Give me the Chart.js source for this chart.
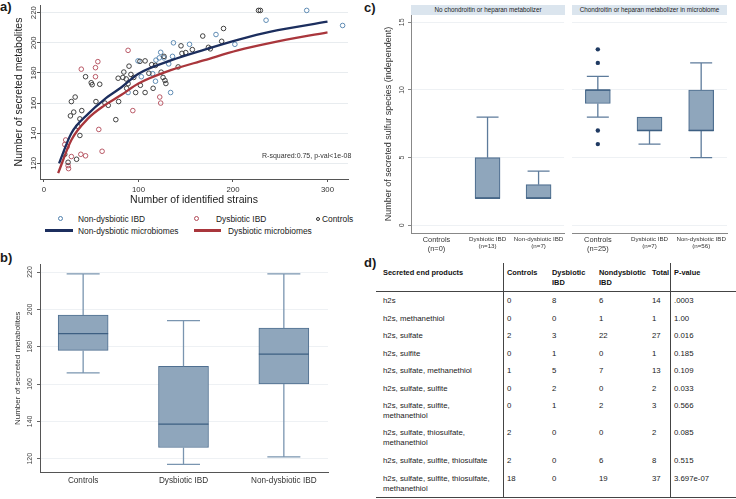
<!DOCTYPE html>
<html>
<head>
<meta charset="utf-8">
<script src="https://cdn.jsdelivr.net/npm/chart.js@4.4.1/dist/chart.umd.min.js"></script>
<style>
  html, body { margin:0; padding:0; background:#fff; }
  body { width:736px; height:499px; position:relative; overflow:hidden; font-family:"Liberation Sans", Arial, sans-serif; color:#1a1a1a; }
  canvas { position:absolute; }
  .t { position:absolute; white-space:pre; }
  .plab { position:absolute; font-weight:bold; font-size:13px; line-height:13px; }
  .dot { position:absolute; border-radius:50%; box-sizing:border-box; }
  .ln { position:absolute; }
</style>
</head>
<body>
<div class="plab" style="left:0;top:0">a)</div>
<div class="plab" style="left:0;top:251px">b)</div>
<div class="plab" style="left:364px;top:1px">c)</div>
<div class="plab" style="left:364px;top:256px">d)</div>
<canvas id="ca" width="360" height="212" style="left:0;top:0"></canvas>
<canvas id="cb" width="360" height="241" style="left:0;top:258px"></canvas>
<canvas id="ccl" width="196" height="258" style="left:370px;top:0"></canvas>
<canvas id="ccr" width="170" height="258" style="left:566px;top:0"></canvas>
<div id="extra"></div>
<script>
// ================= DATA =================
// Panel a: scatter of strains vs secreted metabolites
const aNonDysX = [99.5,103,89,123.5,137,154,182,202,118.5,115,118,134,136,127,132,235,278,316,122];
const aNonDysY = [188,177.5,167,193.7,200,199,205.5,199,188.5,179.5,174.5,167,191,190,186,215,221.5,211.5,190];
const aDysX = [89,57,39.5,54.5,54.5,94,58,61.5,23,24.5,29,39,44,25.5,26,122.5,123.5,22];
const aDysY = [195,187.5,182.5,183.5,177.5,155,142.5,128,135.5,131,124.5,126,125,118.5,116.5,164,160,132.5];
const aCtrlX = [44,50,51,59,29,33,28,31.5,40,38,36,38,22,34.5,25.5,64.5,68,55,76,79,78.5,83.5,87,90,92,95,89,87.5,97,101.5,107,114,111,102,107,115.5,124,126,128,129,127,145,146,150,157,168,174,176,188,190,227,229,142,118,84.5];
const aCtrlY = [177.5,173.5,172.2,172.5,161,164,151.5,154,155,149.5,144.5,138.5,126,122.7,120.7,160,158.5,161,149,161,176.5,177,176,184.5,179,177,172.9,169.8,167,187.7,188,185.5,179.8,171.8,167,169.8,180.5,177,175,173,191,198,193,193.5,195.5,204.5,197,196,201,209.5,221.5,221.5,184,185,180.6];
const aFitNonDysX = [16,29,47,64,82,100,135,170,205,240,300];
const aFitNonDysY = [120,140,153,162.5,170.5,179.5,188.5,195.5,202,207.5,214];
const aFitDysX = [15,29,47,64,82,100,135,170,205,240,300];
const aFitDysY = [113.5,135.5,150,158.5,165.5,173,182,188.5,195,200,207];
const aXTicks = [0,100,200,300];
const aYTicks = [120,140,160,180,200,220];

// Panel b: box plot of secreted metabolites
const bCats = ['Controls','Dysbiotic IBD','Non-dysbiotic IBD'];
const bLow  = [166, 117, 121];
const bQ1   = [178, 126, 160];
const bMed  = [187, 138.5, 176];
const bQ3   = [197, 169.5, 190];
const bHigh = [219, 194, 219];
const bYTicks = [120,140,160,180,200,220];

// Panel c: sulfur species by chondroitin/heparan metabolizer
const cLeftTitle = 'No chondroitin or heparan metabolizer';
const cRightTitle = 'Chondroitin or heparan metabolizer in microbiome';
const cLeftCats  = [['Controls','(n=0)'],['Dysbiotic IBD','(n=13)'],['Non-dysbiotic IBD','(n=7)']];
const cLeftLow   = [null, 2, 2];
const cLeftQ1    = [null, 2, 2];
const cLeftMed   = [null, 2, 2];
const cLeftQ3    = [null, 5, 3];
const cLeftHigh  = [null, 8, 4];
const cRightCats = [['Controls','(n=25)'],['Dysbiotic IBD','(n=7)'],['Non-dysbiotic IBD','(n=56)']];
const cRightLow  = [8, 6, 5];
const cRightQ1   = [9, 7, 7];
const cRightMed  = [10, 7, 7];
const cRightQ3   = [10, 8, 10];
const cRightHigh = [11, 8, 12];
const cRightOutCat = [0, 0, 0, 0];
const cRightOutVal = [13, 12, 7, 6];
const cYTicks = [0,5,10,15];

// Panel d: table
const dHeaders  = ['Secreted end products','Controls','Dysbiotic\nIBD','Nondysbiotic\nIBD','Total','P-value'];
const dProducts = ['h2s','h2s, methanethiol','h2s, sulfate','h2s, sulfite','h2s, sulfate, methanethiol','h2s, sulfate, sulfite','h2s, sulfate, sulfite,\nmethanethiol','h2s, sulfate, thiosulfate,\nmethanethiol','h2s, sulfate, sulfite, thiosulfate','h2s, sulfate, sulfite, thiosulfate,\nmethanethiol'];
const dControls = [0,0,2,0,1,0,0,2,2,18];
const dDys      = [8,0,3,1,5,2,1,0,0,0];
const dNonDys   = [6,1,22,0,7,0,2,0,6,19];
const dTotal    = [14,1,27,1,13,2,3,2,8,37];
const dPval     = ['.0003','1.00','0.016','0.185','0.109','0.033','0.566','0.085','0.515','3.697e-07'];

// ================= HELPERS =================
const FONT = '"Liberation Sans", Arial, sans-serif';
Chart.defaults.font.family = FONT;
Chart.defaults.color = '#333';
const zip = (xs, ys) => xs.map((x, i) => ({x: x, y: ys[i]}));
const fixTicks = arr => (s => { s.ticks = arr.map(v => ({value: v})); });
const base = () => ({responsive:false, maintainAspectRatio:false, animation:false, devicePixelRatio:1, events:[],
  plugins:{legend:{display:false}, tooltip:{enabled:false}}});

function boxPlugin(name, d) {
  return { id: 'box_' + name, afterDatasetsDraw(chart) {
    const ctx = chart.ctx, xs = chart.scales.x, ys = chart.scales.y;
    ctx.save();
    d.low.forEach((lo, i) => {
      if (d.q1[i] == null) return;
      const cx = xs.getPixelForValue(i);
      const yq1 = ys.getPixelForValue(d.q1[i]), yq3 = ys.getPixelForValue(d.q3[i]);
      const ylo = ys.getPixelForValue(lo), yhi = ys.getPixelForValue(d.high[i]), ymed = ys.getPixelForValue(d.med[i]);
      ctx.strokeStyle = d.whisker; ctx.lineWidth = d.ww;
      ctx.beginPath();
      if (d.high[i] > d.q3[i]) { ctx.moveTo(cx, yq3); ctx.lineTo(cx, yhi); ctx.moveTo(cx - d.cap/2, yhi); ctx.lineTo(cx + d.cap/2, yhi); }
      if (lo < d.q1[i]) { ctx.moveTo(cx, yq1); ctx.lineTo(cx, ylo); ctx.moveTo(cx - d.cap/2, ylo); ctx.lineTo(cx + d.cap/2, ylo); }
      ctx.stroke();
      ctx.strokeStyle = d.median; ctx.lineWidth = d.mw;
      ctx.beginPath(); ctx.moveTo(cx - d.bw/2, ymed); ctx.lineTo(cx + d.bw/2, ymed); ctx.stroke();
    });
    ctx.restore();
  }};
}
const boxBars = (q1, q3) => q1.map((v, i) => v == null ? null : {x: i, y: [v, q3[i]]}).filter(Boolean);

const BOX_FILL = '#8fa6bc', BOX_EDGE = '#4f6f90', WHISK = '#7a95b0', MED = '#3d5f82';

// ================= PANEL A =================
new Chart(document.getElementById('ca'), {
  type: 'scatter',
  data: { datasets: [
    {type:'line', data: zip(aFitNonDysX, aFitNonDysY), borderColor:'#1c2e5e', borderWidth:2.3, pointRadius:0, cubicInterpolationMode:'monotone', fill:false, order:0},
    {type:'line', data: zip(aFitDysX, aFitDysY), borderColor:'#a9363c', borderWidth:2.3, pointRadius:0, cubicInterpolationMode:'monotone', fill:false, order:0},
    {data: zip(aCtrlX, aCtrlY), pointRadius:2.3, pointBorderWidth:0.9, pointBorderColor:'#2f2f2f', pointBackgroundColor:'rgba(0,0,0,0)', order:1},
    {data: zip(aDysX, aDysY), pointRadius:2.3, pointBorderWidth:0.9, pointBorderColor:'#b24a58', pointBackgroundColor:'rgba(0,0,0,0)', order:2},
    {data: zip(aNonDysX, aNonDysY), pointRadius:2.3, pointBorderWidth:0.9, pointBorderColor:'#4f80ad', pointBackgroundColor:'rgba(0,0,0,0)', order:3}
  ]},
  options: Object.assign(base(), {
    layout: {padding: {left:12.7, right:12, top:5, bottom:0}},
    scales: {
      x: {type:'linear', min:-4.2, max:321.7, offset:false, afterBuildTicks: fixTicks(aXTicks),
          ticks:{font:{size:7.8}, color:'#333', padding:3, maxRotation:0},
          grid:{display:true, drawOnChartArea:false, tickLength:3, tickColor:'#555'},
          border:{color:'#555', width:1},
          title:{display:true, text:'Number of identified strains', font:{size:10.5}, color:'#222', padding:{top:0, bottom:6}},
          afterFit: s => { s.height = 33; }},
      y: {type:'linear', min:109.6, max:225.1, afterBuildTicks: fixTicks(aYTicks),
          ticks:{font:{size:7.8}, color:'#333', minRotation:90, maxRotation:90, crossAlign:'center', padding:-3},
          grid:{color:'#e8ecef', tickLength:3, tickColor:'#555'},
          border:{color:'#555', width:1},
          title:{display:true, text:'Number of secreted metabolites', font:{size:10.5}, color:'#222', padding:{top:0, bottom:0}},
          afterFit: s => { s.width = 27.3; }}
    }
  })
});

// ================= PANEL B =================
new Chart(document.getElementById('cb'), {
  type: 'bar',
  data: { datasets: [{ data: boxBars(bQ1, bQ3), backgroundColor: BOX_FILL, borderColor: BOX_EDGE, borderWidth: 1, borderSkipped: false, barThickness: 50 }]},
  options: Object.assign(base(), {
    layout: {padding: {left:13.2, right:32, top:6, bottom:0}},
    scales: {
      x: {type:'linear', min:-0.43, max:2.44, offset:false, afterBuildTicks: fixTicks([0,1,2]),
          ticks:{font:{size:8.2}, color:'#333', padding:3.4, maxRotation:0, callback: v => bCats[v]},
          grid:{display:false, drawTicks:false},
          border:{color:'#555', width:1},
          afterFit: s => { s.height = 26.3; }},
      y: {type:'linear', min:112.5, max:224.3, beginAtZero:false, afterBuildTicks: fixTicks(bYTicks),
          ticks:{font:{size:7}, color:'#444', minRotation:90, maxRotation:90, crossAlign:'center', padding:0.9},
          grid:{color:'#eef1f4', tickLength:3, tickColor:'#666'},
          border:{color:'#555', width:1},
          title:{display:true, text:'Number of secreted metabolites', font:{size:8}, color:'#333', padding:{top:0, bottom:0}},
          afterFit: s => { s.width = 26.8; }}
    }
  }),
  plugins: [boxPlugin('b', {low:bLow, q1:bQ1, med:bMed, q3:bQ3, high:bHigh, whisker:WHISK, ww:1.3, median:MED, mw:1.3, cap:33, bw:50})]
});

// ================= PANEL C =================
function cChart(id, cats, low, q1, med, q3, high, outCat, outVal, left) {
  const ds = [{ type:'bar', data: boxBars(q1, q3), backgroundColor: BOX_FILL, borderColor: BOX_EDGE, borderWidth: 1.2, borderSkipped:false, barThickness: 25, order: 2 }];
  if (outCat) ds.push({ type:'scatter', data: zip(outCat, outVal), pointRadius:2.2, pointBackgroundColor:'#1f3a62', pointBorderColor:'#1f3a62', pointBorderWidth:0, order: 0 });
  new Chart(document.getElementById(id), {
    type: 'bar',
    data: { datasets: ds },
    options: Object.assign(base(), {
      layout: {padding: left ? {left:12.9, right:1, top:15, bottom:0} : {left:6, right:9, top:15, bottom:0}},
      scales: {
        x: {type:'linear', min:-0.5, max:2.5, offset:false, afterBuildTicks: fixTicks([0,1,2]),
            ticks:{font: c => ({size: c.index === 0 ? 7.4 : 6.2}), color:'#333', padding:2.5, maxRotation:0, callback: v => cats[v]},
            grid:{display:false, drawTicks:false},
            border:{color:'#888', width:1},
            afterFit: s => { s.height = 25; }},
        y: left ? {type:'linear', min:-0.57, max:15.54, beginAtZero:false, afterBuildTicks: fixTicks(cYTicks),
            ticks:{font:{size:7}, color:'#444', minRotation:90, maxRotation:90, crossAlign:'center', padding:1.6},
            grid:{color:'#eef1f4', tickLength:3, tickColor:'#888'},
            border:{color:'#888', width:1},
            title:{display:true, text:'Number of secreted sulfur species (independent)', font:{size:9}, color:'#333', padding:{top:0,bottom:0}},
            afterFit: s => { s.width = 28.1; }}
          : {type:'linear', min:-0.57, max:15.54, beginAtZero:false, afterBuildTicks: fixTicks(cYTicks),
            ticks:{display:false}, grid:{color:'#eef1f4', drawTicks:false}, border:{display:false},
            afterFit: s => { s.width = 0; }}
      }
    }),
    plugins: [boxPlugin(id, {low, q1, med, q3, high, whisker:'#5d7b9b', ww:1.3, median:MED, mw:1.4, cap:22, bw:25})]
  });
}
cChart('ccl', cLeftCats, cLeftLow, cLeftQ1, cLeftMed, cLeftQ3, cLeftHigh, null, null, true);
cChart('ccr', cRightCats, cRightLow, cRightQ1, cRightMed, cRightQ3, cRightHigh, cRightOutCat, cRightOutVal, false);

// ================= HTML extras: legend, annotations, headers, table =================
const ex = document.getElementById('extra');
function add(html) { ex.insertAdjacentHTML('beforeend', html); }
// Panel a annotation + legend
add('<div class="t" style="left:262px;top:151px;font-size:7px;line-height:9px;color:#333">R-squared:0.75, p-val&lt;1e-08</div>');
add('<div class="dot" style="left:57.5px;top:216px;width:5px;height:5px;border:1px solid #4f80ad"></div>');
add('<div class="t" style="left:78px;top:213.5px;font-size:8.4px;line-height:10px">Non-dysbiotic IBD</div>');
add('<div class="dot" style="left:193.5px;top:216px;width:5px;height:5px;border:1px solid #b24a58"></div>');
add('<div class="t" style="left:216px;top:213.5px;font-size:8.4px;line-height:10px">Dysbiotic IBD</div>');
add('<div class="dot" style="left:315.5px;top:216.5px;width:4px;height:4px;border:1px solid #2f2f2f"></div>');
add('<div class="t" style="left:322px;top:213.5px;font-size:8.4px;line-height:10px">Controls</div>');
add('<div class="ln" style="left:45px;top:229.3px;width:28px;height:2.4px;background:#1c2e5e"></div>');
add('<div class="t" style="left:78px;top:225.5px;font-size:8.4px;line-height:10px">Non-dysbiotic microbiomes</div>');
add('<div class="ln" style="left:194px;top:229.3px;width:27px;height:2.4px;background:#a9363c"></div>');
add('<div class="t" style="left:228px;top:225.5px;font-size:8.4px;line-height:10px">Dysbiotic microbiomes</div>');
// Panel c facet headers
add('<div class="t" style="left:411px;top:5px;width:154px;height:10px;background:#dbe5ee;font-size:6.3px;line-height:10px;text-align:center;color:#222">' + cLeftTitle + '</div>');
add('<div class="t" style="left:572px;top:5px;width:155px;height:10px;background:#dbe5ee;font-size:6.3px;line-height:10px;text-align:center;color:#222">' + cRightTitle + '</div>');
// Panel d table
const colX = [383, 507, 552, 599, 652, 674];
const rowY = [301, 318.5, 336, 353.5, 371, 388.5, 406, 433, 461, 479];
add('<div class="ln" style="left:502.5px;top:263px;width:1px;height:235px;background:#444"></div>');
add('<div class="ln" style="left:669.5px;top:263px;width:1px;height:235px;background:#444"></div>');
add('<div class="ln" style="left:376px;top:291px;width:360px;height:1px;background:#444"></div>');
add('<div class="ln" style="left:376px;top:497px;width:360px;height:1px;background:#444"></div>');
dHeaders.forEach((h, j) => add('<div class="t" style="left:' + colX[j] + 'px;top:268px;font-size:7.4px;line-height:10px;font-weight:bold;color:#111">' + h + '</div>'));
dProducts.forEach((p, i) => {
  const cells = [p, dControls[i], dDys[i], dNonDys[i], dTotal[i], dPval[i]];
  cells.forEach((c, j) => add('<div class="t" style="left:' + colX[j] + 'px;top:' + (rowY[i] - 5) + 'px;font-size:7.8px;line-height:10px;color:#222">' + c + '</div>'));
});
</script>
</body>
</html>
